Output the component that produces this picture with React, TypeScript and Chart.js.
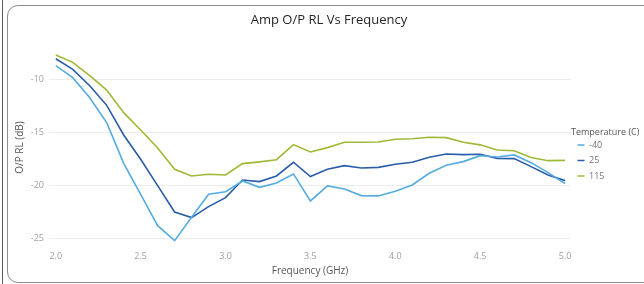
import React, { useEffect, useRef } from "react";
import { Chart, registerables } from "chart.js";

Chart.register(...registerables);

const FREQ_GHZ = [2.0, 2.1, 2.2, 2.3, 2.4, 2.5, 2.6, 2.7, 2.8, 2.9, 3.0, 3.1, 3.2, 3.3, 3.4, 3.5, 3.6, 3.7, 3.8, 3.9, 4.0, 4.1, 4.2, 4.3, 4.4, 4.5, 4.6, 4.7, 4.8, 4.9, 5.0];

const RL_M40 = [-8.74, -9.87, -11.76, -14.11, -17.94, -20.86, -23.81, -25.22, -23.02, -20.86, -20.61, -19.6, -20.2, -19.79, -18.94, -21.48, -20.07, -20.35, -20.98, -21.01, -20.57, -19.98, -18.88, -18.13, -17.78, -17.22, -17.34, -17.15, -17.88, -18.82, -19.85];
const RL_25 = [-8.09, -9.09, -10.63, -12.48, -15.27, -17.56, -20.04, -22.52, -23.05, -22.02, -21.17, -19.51, -19.66, -19.13, -17.84, -19.19, -18.5, -18.16, -18.38, -18.32, -18.03, -17.84, -17.37, -17.06, -17.12, -17.09, -17.47, -17.5, -18.25, -19.04, -19.57];
const RL_115 = [-7.74, -8.43, -9.69, -11.04, -13.17, -14.8, -16.5, -18.5, -19.13, -18.97, -19.04, -17.97, -17.8, -17.6, -16.18, -16.87, -16.46, -15.96, -15.96, -15.93, -15.68, -15.62, -15.49, -15.52, -15.96, -16.2, -16.68, -16.75, -17.4, -17.69, -17.66];

const SERIES_LABELS = ["-40", "25", "115"];
const SERIES_COLORS = ["#55ace0", "#2a5da8", "#9db935"];

const FONT = "'Open Sans', 'Noto Sans', sans-serif";

// widen the right-hand legend box so its title fits and the chart title stays centred on the card
const legendWidthPlugin = {
  id: "legendWidth",
  afterInit(chart: any) {
    const lg = chart.legend;
    if (!lg) return;
    const origFit = lg.fit.bind(lg);
    lg.fit = function () {
      origFit();
      this.width = 80;
    };
  },
};

export default function App() {
  const ref = useRef<HTMLCanvasElement | null>(null);

  useEffect(() => {
    if (!ref.current) return;
    const series = [RL_M40, RL_25, RL_115];
    const chart = new Chart(ref.current, {
      type: "line",
      data: {
        labels: FREQ_GHZ,
        datasets: series.map((d, i) => ({
          label: SERIES_LABELS[i],
          data: d,
          borderColor: SERIES_COLORS[i],
          backgroundColor: SERIES_COLORS[i],
          borderWidth: 1.6,
          pointRadius: 0,
          tension: 0,
          fill: false,
        })),
      },
      plugins: [legendWidthPlugin],
      options: {
        responsive: false,
        animation: false,
        devicePixelRatio: 1,
        layout: { padding: { left: 0, right: 0, top: 0, bottom: 0 } },
        plugins: {
          title: {
            display: true,
            text: "Amp O/P RL Vs Frequency",
            color: "#262626",
            font: { family: FONT, size: 13, weight: "normal" },
            padding: { top: 12.2, bottom: 23.6 },
          },
          legend: {
            display: true,
            position: "right",
            align: "center",
            fullSize: false,
            title: {
              display: true,
              text: "Temperature (C)",
              position: "start",
              color: "#555555",
              font: { family: FONT, size: 9 },
              padding: { top: 19.5, bottom: -4.3 },
            },
            labels: {
              usePointStyle: true,
              pointStyle: "line",
              pointStyleWidth: 7,
              padding: 6.5,
              color: "#777777",
              font: { family: FONT, size: 9 },
            },
          },
          tooltip: { enabled: false },
        },
        scales: {
          x: {
            type: "linear",
            min: 1.96,
            max: 5.035,
            grid: { display: false, drawTicks: false },
            border: { display: false },
            ticks: {
              stepSize: 0.5,
              includeBounds: false,
              padding: 7,
              color: "#a0a0a0",
              font: { family: FONT, size: 9 },
              callback: (v: any) => Number(v).toFixed(1),
            },
            title: {
              display: true,
              text: "Frequency (GHz)",
              color: "#555555",
              font: { family: FONT, size: 10 },
              padding: { top: 0, bottom: 7 },
            },
            afterFit: (s: any) => {
              s.height = 40.4;
            },
          },
          y: {
            min: -25.5,
            max: -7.4,
            grid: { color: "#ececec", lineWidth: 1, drawTicks: false },
            border: { display: false },
            ticks: {
              stepSize: 5,
              includeBounds: false,
              padding: 5,
              color: "#a0a0a0",
              font: { family: FONT, size: 9 },
            },
            title: {
              display: true,
              text: "O/P RL (dB)",
              color: "#555555",
              font: { family: FONT, size: 10 },
              padding: { top: 7, bottom: 0 },
            },
            afterFit: (s: any) => {
              s.width = 42;
            },
          },
        },
      },
    });
    return () => chart.destroy();
  }, []);

  return (
    <div style={{ position: "fixed", left: 0, top: 0, width: 644, height: 284, overflow: "hidden", background: "#ffffff" }}>
      <div style={{ position: "absolute", left: 2, top: 0, width: 1, height: 284, background: "#5a5a5a" }} />
      <div
        style={{
          position: "absolute",
          left: 7,
          top: 5,
          width: 660,
          height: 278,
          boxSizing: "border-box",
          border: "1px solid #8f8f8f",
          borderRadius: 11,
        }}
      />
      <canvas ref={ref} width={644} height={284} style={{ position: "absolute", left: 7, top: 0, display: "block" }} />
    </div>
  );
}
